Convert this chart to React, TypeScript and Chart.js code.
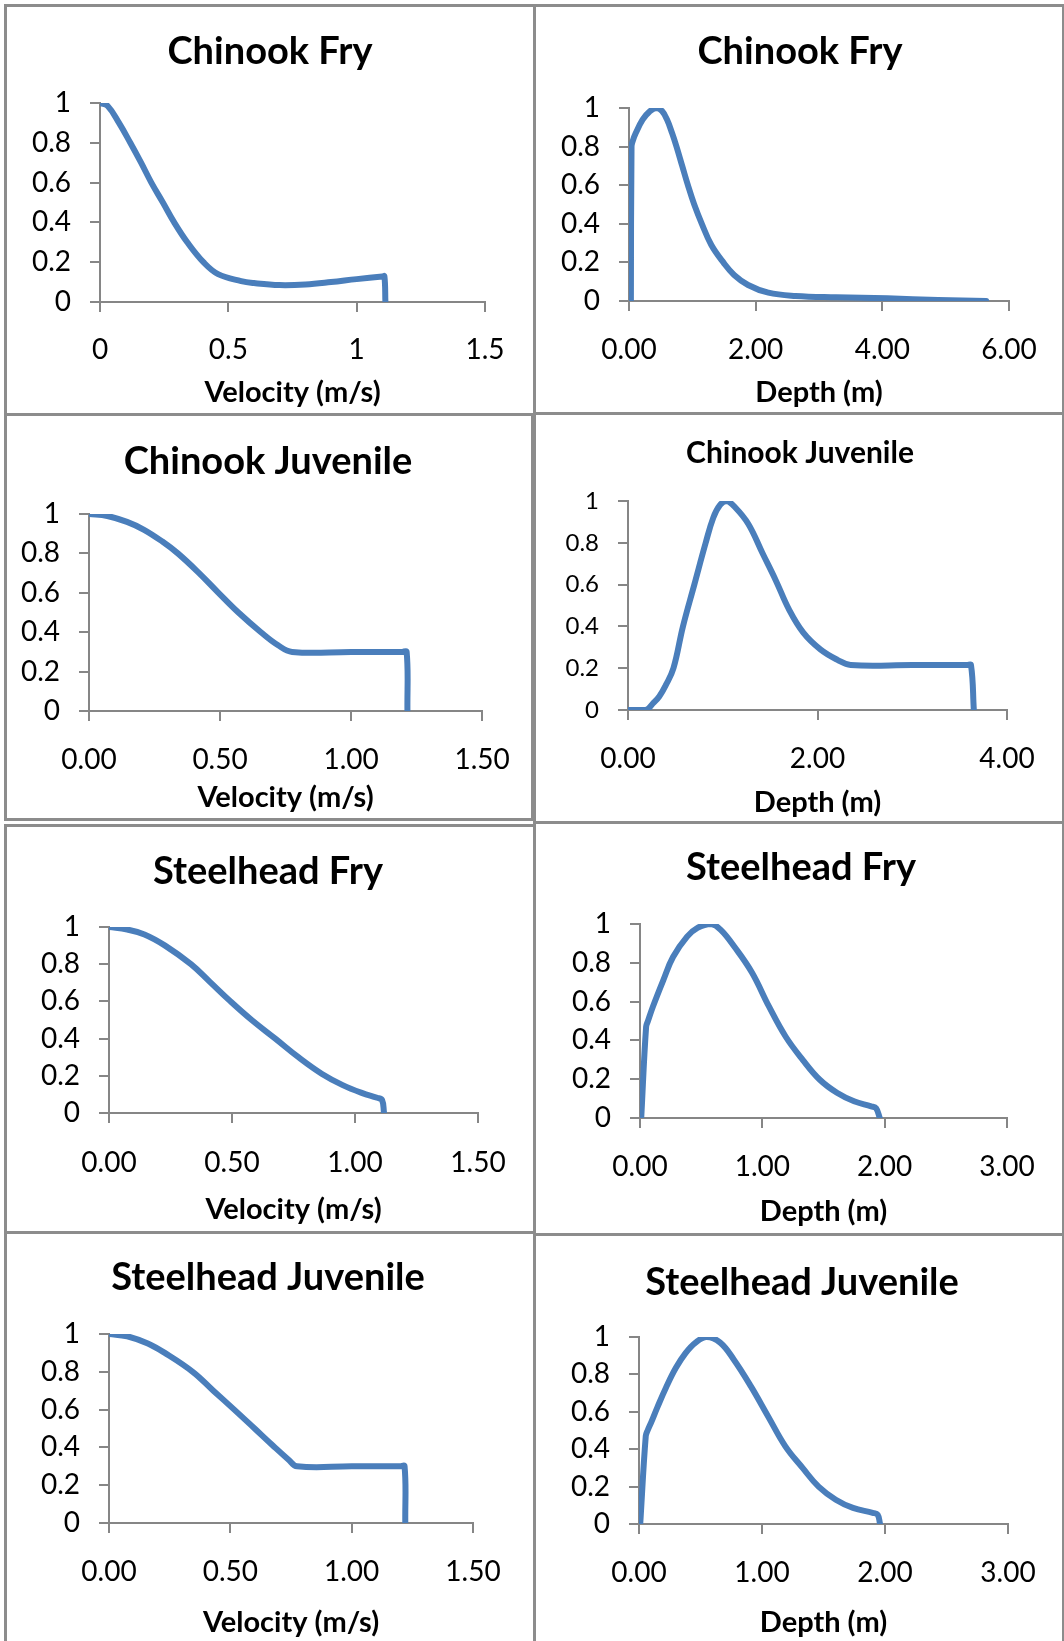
import React, { useEffect, useRef } from "react";
import { Chart, registerables } from "chart.js";

Chart.register(...registerables);

// ---------------- DATA ----------------
// Chinook Fry – velocity suitability
const chinookFryVelX = [0, 0.03, 0.074, 0.118, 0.16, 0.2, 0.245, 0.289, 0.34, 0.403, 0.46, 0.55, 0.6, 0.7, 0.8, 0.9, 1.0, 1.1, 1.108, 1.112];
const chinookFryVelY = [1, 0.985, 0.9, 0.8, 0.7, 0.6, 0.5, 0.4, 0.3, 0.2, 0.14, 0.105, 0.095, 0.085, 0.088, 0.1, 0.115, 0.128, 0.13, 0];

// Chinook Fry – depth suitability
const chinookFryDepX = [0.03, 0.04, 0.06, 0.107, 0.215, 0.32, 0.43, 0.52, 0.6, 0.68, 0.75, 0.84, 0.93, 1.03, 1.15, 1.3, 1.49, 1.66, 1.88, 2.2, 2.63, 3.27, 4.08, 4.88, 5.64];
const chinookFryDepY = [0, 0.8, 0.83, 0.87, 0.94, 0.98, 1.0, 0.985, 0.94, 0.87, 0.8, 0.7, 0.6, 0.5, 0.4, 0.29, 0.2, 0.135, 0.083, 0.043, 0.026, 0.019, 0.014, 0.005, 0];

// Chinook Juvenile – velocity suitability
const chinookJuvVelX = [0, 0.07, 0.145, 0.21, 0.28, 0.339, 0.42, 0.494, 0.57, 0.656, 0.72, 0.775, 1.0, 1.195, 1.212, 1.215];
const chinookJuvVelY = [1, 0.99, 0.96, 0.92, 0.86, 0.8, 0.7, 0.6, 0.5, 0.4, 0.335, 0.3, 0.3, 0.3, 0.3, 0];

// Chinook Juvenile – depth suitability
const chinookJuvDepX = [0, 0.19, 0.26, 0.33, 0.4, 0.48, 0.58, 0.7, 0.82, 0.9, 0.97, 1.04, 1.13, 1.27, 1.42, 1.56, 1.7, 1.85, 2.03, 2.21, 2.35, 3.0, 3.58, 3.62, 3.65];
const chinookJuvDepY = [0, 0, 0.03, 0.065, 0.12, 0.2, 0.4, 0.6, 0.8, 0.92, 0.98, 1.0, 0.97, 0.89, 0.75, 0.62, 0.48, 0.37, 0.29, 0.24, 0.215, 0.215, 0.215, 0.215, 0];

// Steelhead Fry – velocity suitability
const steelFryVelX = [0, 0.074, 0.144, 0.228, 0.333, 0.41, 0.494, 0.58, 0.676, 0.77, 0.866, 0.95, 1.03, 1.09, 1.11, 1.118];
const steelFryVelY = [1, 0.986, 0.96, 0.9, 0.8, 0.705, 0.6, 0.5, 0.4, 0.3, 0.21, 0.15, 0.107, 0.082, 0.07, 0];

// Steelhead Fry – depth suitability
const steelFryDepX = [0.01, 0.05, 0.065, 0.106, 0.19, 0.27, 0.385, 0.47, 0.58, 0.66, 0.775, 0.915, 1.054, 1.19, 1.33, 1.47, 1.61, 1.75, 1.89, 1.93, 1.96];
const steelFryDepY = [0, 0.47, 0.5, 0.575, 0.71, 0.83, 0.935, 0.98, 1.0, 0.97, 0.88, 0.75, 0.575, 0.42, 0.3, 0.197, 0.13, 0.086, 0.06, 0.05, 0];

// Steelhead Juvenile – velocity suitability
const steelJuvVelX = [0, 0.075, 0.16, 0.23, 0.345, 0.43, 0.516, 0.6, 0.675, 0.74, 0.775, 1.0, 1.2, 1.218, 1.221];
const steelJuvVelY = [1, 0.988, 0.95, 0.9, 0.8, 0.7, 0.6, 0.5, 0.41, 0.335, 0.3, 0.3, 0.3, 0.3, 0];

// Steelhead Juvenile – depth suitability
const steelJuvDepX = [0.01, 0.055, 0.07, 0.1, 0.15, 0.22, 0.3, 0.38, 0.46, 0.55, 0.66, 0.77, 0.91, 1.05, 1.19, 1.33, 1.46, 1.6, 1.74, 1.9, 1.94, 1.96];
const steelJuvDepY = [0, 0.47, 0.5, 0.545, 0.625, 0.73, 0.835, 0.915, 0.97, 1.0, 0.97, 0.88, 0.736, 0.575, 0.415, 0.3, 0.2, 0.13, 0.086, 0.06, 0.05, 0];

const panelTitles = ["Chinook Fry", "Chinook Fry", "Chinook Juvenile", "Chinook Juvenile", "Steelhead Fry", "Steelhead Fry", "Steelhead Juvenile", "Steelhead Juvenile"];
const velocityLabel = "Velocity (m/s)";
const depthLabel = "Depth (m)";
const yTickStep = 0.2;

// ---------------- LAYOUT / STYLE ----------------
const PAGE_W = 1064;
const PAGE_H = 1641;
const FONT = "Lato, 'Open Sans', 'DejaVu Sans', sans-serif";
const LINE_COLOR = "#4a7ebb";
const AXIS_COLOR = "#868686";
const FRAME_COLOR = "#8c8c8c";
const TICK_LEN = 10;
const AXIS_TITLE_SIZE = 29;

type PanelSpec = {
  title: string;
  xs: number[];
  ys: number[];
  xTitle: string;
  xMax: number;
  xStep: number;
  decimals: number | null;
  box: [number, number, number, number];
  plot: [number, number, number, number];
  titleAt: [number, number];
  titleSize: number;
  yTickSize: number;
  xTickSize: number;
  xLabelY: number;
  xTitleY: number;
};

const panels: PanelSpec[] = [
  { title: panelTitles[0], xs: chinookFryVelX, ys: chinookFryVelY, xTitle: velocityLabel, xMax: 1.5, xStep: 0.5, decimals: null,
    box: [5, 5, 534, 414], plot: [100, 103, 485, 302], titleAt: [270, 52], titleSize: 38, yTickSize: 28, xTickSize: 28, xLabelY: 350, xTitleY: 393 },
  { title: panelTitles[1], xs: chinookFryDepX, ys: chinookFryDepY, xTitle: depthLabel, xMax: 6, xStep: 2, decimals: 2,
    box: [534, 5, 1063, 413], plot: [629, 108, 1009, 301], titleAt: [800, 52], titleSize: 38, yTickSize: 28, xTickSize: 28, xLabelY: 350, xTitleY: 393 },
  { title: panelTitles[2], xs: chinookJuvVelX, ys: chinookJuvVelY, xTitle: velocityLabel, xMax: 1.5, xStep: 0.5, decimals: 2,
    box: [5, 414, 532, 819], plot: [89, 514, 488, 711], titleAt: [268, 462], titleSize: 38, yTickSize: 28, xTickSize: 28, xLabelY: 760, xTitleY: 798 },
  { title: panelTitles[3], xs: chinookJuvDepX, ys: chinookJuvDepY, xTitle: depthLabel, xMax: 4, xStep: 2, decimals: 2,
    box: [534, 413, 1063, 822], plot: [628, 501, 1007, 710], titleAt: [800, 453], titleSize: 30, yTickSize: 24, xTickSize: 28, xLabelY: 759, xTitleY: 803 },
  { title: panelTitles[4], xs: steelFryVelX, ys: steelFryVelY, xTitle: velocityLabel, xMax: 1.5, xStep: 0.5, decimals: 2,
    box: [5, 825, 534, 1232], plot: [109, 927, 478, 1113], titleAt: [268, 872], titleSize: 38, yTickSize: 28, xTickSize: 28, xLabelY: 1163, xTitleY: 1210 },
  { title: panelTitles[5], xs: steelFryDepX, ys: steelFryDepY, xTitle: depthLabel, xMax: 3, xStep: 1, decimals: 2,
    box: [534, 822, 1063, 1234], plot: [640, 924, 1007, 1118], titleAt: [801, 868], titleSize: 38, yTickSize: 28, xTickSize: 28, xLabelY: 1167, xTitleY: 1212 },
  { title: panelTitles[6], xs: steelJuvVelX, ys: steelJuvVelY, xTitle: velocityLabel, xMax: 1.5, xStep: 0.5, decimals: 2,
    box: [5, 1232, 534, 1662], plot: [109, 1334, 473, 1523], titleAt: [268, 1278], titleSize: 38, yTickSize: 28, xTickSize: 28, xLabelY: 1572, xTitleY: 1623 },
  { title: panelTitles[7], xs: steelJuvDepX, ys: steelJuvDepY, xTitle: depthLabel, xMax: 3, xStep: 1, decimals: 2,
    box: [534, 1234, 1063, 1662], plot: [639, 1337, 1008, 1524], titleAt: [802, 1283], titleSize: 38, yTickSize: 28, xTickSize: 28, xLabelY: 1573, xTitleY: 1623 },
];

function Panel({ spec }: { spec: PanelSpec }) {
  const ref = useRef<HTMLCanvasElement | null>(null);
  const [bx0, by0, bx1, by1] = spec.box;
  const W = bx1 - bx0;
  const H = Math.min(by1, PAGE_H) - by0;

  useEffect(() => {
    const canvas = ref.current;
    if (!canvas) return;
    const l = spec.plot[0] - bx0;
    const t = spec.plot[1] - by0;
    const r = spec.plot[2] - bx0;
    const b = spec.plot[3] - by0;
    const xTickPad = spec.xLabelY - spec.plot[3] - TICK_LEN - (spec.xTickSize * 1.2) / 2;
    const axLH = AXIS_TITLE_SIZE * 1.2;
    const xTitlePadBottom = H - (spec.xTitleY - by0) - axLH / 2;
    const titleX = spec.titleAt[0] - bx0;
    const titleY = spec.titleAt[1] - by0;

    const titlePlugin = {
      id: "panelTitle",
      afterDraw(chart: any) {
        const ctx = chart.ctx;
        ctx.save();
        ctx.font = `bold ${spec.titleSize}px ${FONT}`;
        ctx.fillStyle = "#000";
        ctx.textAlign = "center";
        ctx.textBaseline = "middle";
        ctx.fillText(spec.title, titleX, titleY);
        ctx.restore();
      },
    };

    const gridOpts = {
      display: true,
      drawOnChartArea: false,
      drawTicks: true,
      tickLength: TICK_LEN,
      color: AXIS_COLOR,
      lineWidth: 2,
    };
    const borderOpts = { display: true, color: AXIS_COLOR, width: 2 };

    const chart = new Chart(canvas, {
      type: "scatter",
      data: {
        datasets: [
          {
            data: spec.xs.map((x, i) => ({ x, y: spec.ys[i] })),
            showLine: true,
            borderColor: LINE_COLOR,
            backgroundColor: LINE_COLOR,
            borderWidth: 6,
            pointRadius: 0,
            pointHoverRadius: 0,
            tension: 0.4,
            borderCapStyle: "round",
            borderJoinStyle: "round",
            fill: false,
          } as any,
        ],
      },
      plugins: [titlePlugin],
      options: {
        responsive: false,
        animation: false,
        devicePixelRatio: 1,
        events: [],
        layout: { padding: { left: 0, right: W - r, top: t, bottom: 0 } },
        plugins: {
          legend: { display: false },
          tooltip: { enabled: false },
          title: { display: false },
        },
        scales: {
          x: {
            type: "linear",
            min: 0,
            max: spec.xMax,
            afterFit: (s: any) => {
              s.height = H - b;
            },
            ticks: {
              stepSize: spec.xStep,
              padding: xTickPad,
              color: "#000",
              font: { family: FONT, size: spec.xTickSize },
              maxRotation: 0,
              autoSkip: false,
              callback: (v: any) => (spec.decimals === null ? String(Number(v)) : Number(v).toFixed(spec.decimals)),
            },
            grid: gridOpts,
            border: borderOpts,
            title: {
              display: true,
              text: spec.xTitle,
              color: "#000",
              font: { family: FONT, size: AXIS_TITLE_SIZE, weight: "bold" },
              padding: { top: 0, bottom: xTitlePadBottom },
            },
          },
          y: {
            type: "linear",
            min: 0,
            max: 1,
            afterFit: (s: any) => {
              s.width = l;
            },
            ticks: {
              stepSize: yTickStep,
              padding: 19,
              color: "#000",
              font: { family: FONT, size: spec.yTickSize },
              autoSkip: false,
              callback: (v: any) => String(Math.round(Number(v) * 10) / 10),
            },
            grid: gridOpts,
            border: borderOpts,
          },
        },
      } as any,
    });
    return () => chart.destroy();
  }, []);

  return (
    <>
      <div
        style={{
          position: "absolute",
          left: bx0 - 1,
          top: by0 - 1,
          width: W + 3,
          height: by1 - by0 + 3,
          border: `3px solid ${FRAME_COLOR}`,
          boxSizing: "border-box",
        }}
      />
      <canvas
        ref={ref}
        width={W}
        height={H}
        style={{ position: "absolute", left: bx0, top: by0, width: W, height: H }}
      />
    </>
  );
}

export default function App() {
  return (
    <div
      style={{
        position: "absolute",
        left: 0,
        top: 0,
        width: PAGE_W,
        height: PAGE_H,
        overflow: "hidden",
        background: "#fff",
      }}
    >
      {panels.map((p, i) => (
        <Panel key={i} spec={p} />
      ))}
    </div>
  );
}
